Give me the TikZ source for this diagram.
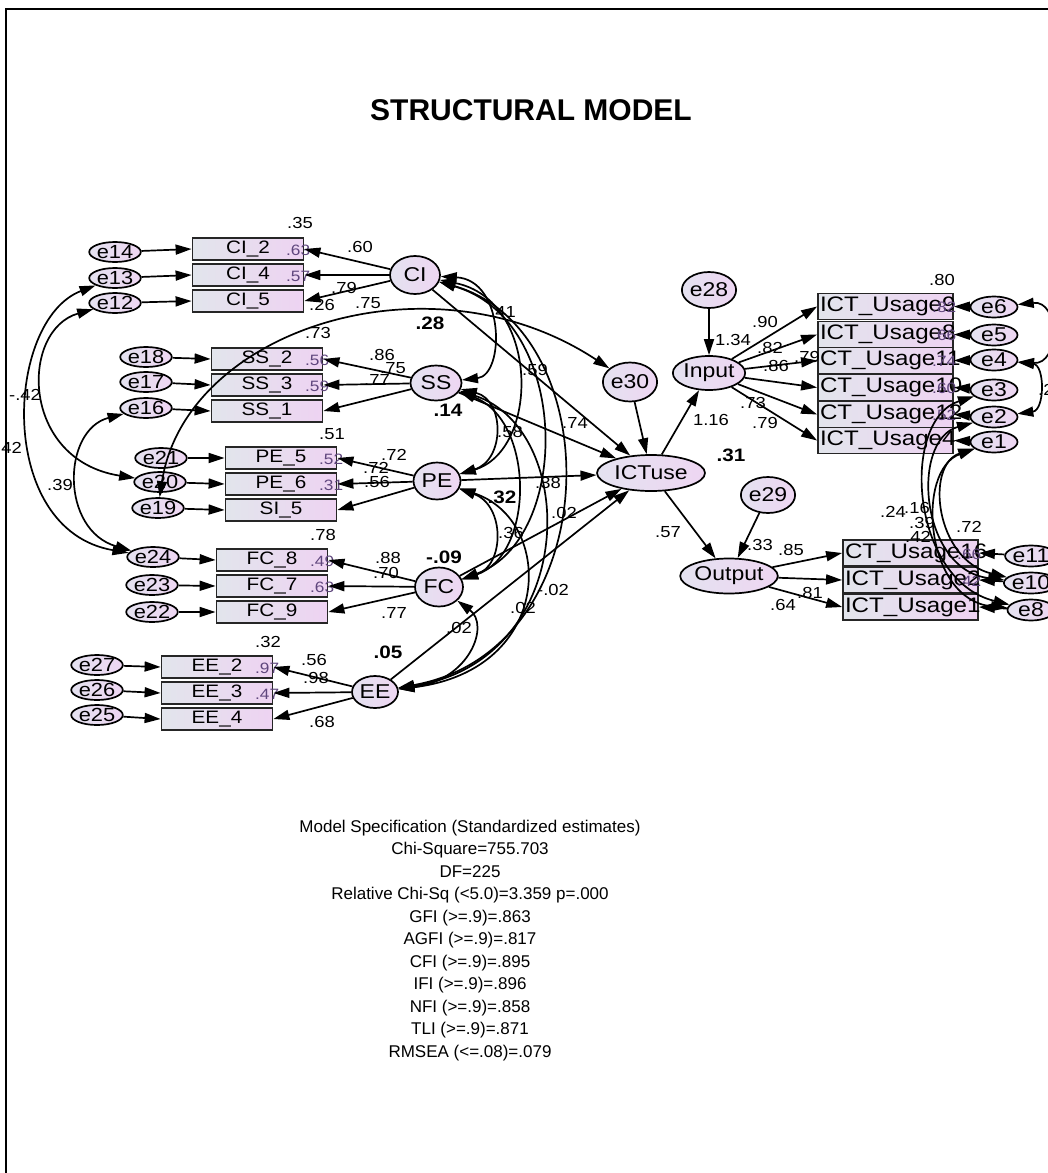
\documentclass[tikz,border=0pt]{standalone}
\usepackage{fontspec}
\setmainfont{Liberation Sans}[FakeStretch=1.15]
\newfontfamily\plainsans{Liberation Sans}
\usetikzlibrary{arrows.meta,shapes.geometric}
\definecolor{boxL}{RGB}{226,229,236}
\definecolor{boxR}{RGB}{238,211,242}
\definecolor{latL}{RGB}{228,226,240}
\definecolor{latR}{RGB}{238,214,242}
\definecolor{rsq}{RGB}{95,70,125}
\newcommand{\fsz}[1]{\fontsize{#1}{#1}\selectfont}
\tikzset{
  lbox/.style={rectangle, draw=black!85, line width=1.8pt, minimum width=111pt, minimum height=22pt, inner sep=0pt, left color=boxL, right color=boxR, font=\fsz{18}},
  rbox/.style={rectangle, draw=black!85, line width=1.8pt, minimum width=135pt, minimum height=26pt, inner sep=0pt, left color=boxL, right color=boxR, font=\fsz{21}, text width=131pt, align=left},
  err/.style={ellipse, draw, line width=1.7pt, minimum width=44pt, minimum height=20pt, inner sep=0pt, left color=latL, right color=latR, font=\fsz{19}},
  rerr/.style={err, minimum width=47pt, minimum height=21pt, font=\fsz{20}},
  lat/.style={ellipse, draw, line width=1.7pt, inner sep=0pt, left color=latL, right color=latR, font=\fsz{20}},
  reg/.style={->, line width=1.7pt},
  cov/.style={<->, line width=1.7pt},
  num/.style={font=\fsz{16}, inner sep=0pt},
  bnum/.style={font=\bfseries\fsz{18}, inner sep=0pt},
  rq/.style={font=\fsz{15}, text=rsq, inner sep=0pt, anchor=west},
}
\begin{document}
\begin{tikzpicture}[x=1pt,y=-1pt,>={Triangle[length=16pt,width=10pt]}]
\useasboundingbox (0,0) rectangle (1048,1173);
\begin{scope}
\clip (0,0) rectangle (1048,1173);
\fill[white] (0,0) rectangle (1048,1173);
\draw[line width=2pt] (6,1200) -- (6,9) -- (1100,9);
\node[font={\plainsans\bfseries\fsz{30}}] (title) at (531,110) {STRUCTURAL MODEL};

% ---------- left indicator boxes ----------
\node[lbox] (CI2) at (248,249) {CI\_2};
\node[lbox] (CI4) at (248,275) {CI\_4};
\node[lbox] (CI5) at (248,301) {CI\_5};
\node[lbox] (SS2) at (267,359) {SS\_2};
\node[lbox] (SS3) at (267,385) {SS\_3};
\node[lbox] (SS1) at (267,411) {SS\_1};
\node[lbox] (PE5) at (281,458) {PE\_5};
\node[lbox] (PE6) at (281,484) {PE\_6};
\node[lbox] (SI5) at (281,510) {SI\_5};
\node[lbox] (FC8) at (272,560) {FC\_8};
\node[lbox] (FC7) at (272,586) {FC\_7};
\node[lbox] (FC9) at (272,612) {FC\_9};
\node[lbox] (EE2) at (217,667) {EE\_2};
\node[lbox] (EE3) at (217,693) {EE\_3};
\node[lbox] (EE4) at (217,719) {EE\_4};

% inner r-square labels
\node[rq] (rCI2) at (286,250) {.63};
\node[rq] (rCI4) at (286,276) {.57};
\node[rq] (rSS2) at (305,360) {.56};
\node[rq] (rSS3) at (305,386) {.59};
\node[rq] (rPE5) at (319,459) {.52};
\node[rq] (rPE6) at (319,485) {.31};
\node[rq] (rFC8) at (310,561) {.49};
\node[rq] (rFC7) at (310,587) {.63};
\node[rq] (rEE2) at (255,668) {.97};
\node[rq] (rEE3) at (255,694) {.47};

% ---------- left error terms ----------
\node[err] (e14) at (115,252) {e14};
\node[err] (e13) at (115,278) {e13};
\node[err] (e12) at (115,303) {e12};
\node[err] (e18) at (146,357) {e18};
\node[err] (e17) at (146,382) {e17};
\node[err] (e16) at (146,408) {e16};
\node[err] (e21) at (161,458) {e21};
\node[err] (e20) at (160,482) {e20};
\node[err] (e19) at (158,508) {e19};
\node[err] (e24) at (153,557) {e24};
\node[err] (e23) at (152,585) {e23};
\node[err] (e22) at (152,612) {e22};
\node[err] (e27) at (97,665) {e27};
\node[err] (e26) at (97,690) {e26};
\node[err] (e25) at (97,715) {e25};

% ---------- latent variables ----------
\node[lat, minimum width=50pt, minimum height=38pt] (CI) at (415,275) {CI};
\node[lat, minimum width=51pt, minimum height=35pt] (SS) at (436,383) {SS};
\node[lat, minimum width=47pt, minimum height=37pt] (PE) at (437,481) {PE};
\node[lat, minimum width=48pt, minimum height=39pt] (FC) at (439,587) {FC};
\node[lat, minimum width=46pt, minimum height=32pt] (EE) at (375,692) {EE};
\node[lat, minimum width=46pt, minimum height=39pt] (e30) at (630,382) {e30};
\node[lat, minimum width=48pt, minimum height=36pt] (e28) at (709,290) {e28};
\node[lat, minimum width=62pt, minimum height=34pt] (Input) at (709,373) {Input};
\node[lat, minimum width=108pt, minimum height=36pt] (ICTuse) at (651,473) {ICTuse};
\node[lat, minimum width=75pt, minimum height=35pt] (Output) at (729,576) {Output};
\node[lat, minimum width=49pt, minimum height=36pt] (e29) at (768,495) {e29};

% ---------- right boxes ----------
\node[rbox] (U9) at (885.5,306.5) {ICT\_Usage9};
\node[rbox] (U8) at (885.5,334.5) {ICT\_Usage8};
\node[rbox] (U11) at (885.5,360.5) {CT\_Usage11};
\node[rbox] (U10) at (885.5,387.5) {CT\_Usage10};
\node[rbox] (U12) at (885.5,414.5) {CT\_Usage12};
\node[rbox] (U4) at (885.5,440.5) {ICT\_Usage4};
\node[rbox] (U16) at (910.5,553) {CT\_Usage16};
\node[rbox] (U2) at (910.5,580) {ICT\_Usage2};
\node[rbox] (U1) at (910.5,607) {ICT\_Usage1};

\node[rq] (rU9) at (932,307) {.82};
\node[rq] (rU8) at (932,335) {.66};
\node[rq] (rU11) at (932,361) {.74};
\node[rq] (rU10) at (932,388) {.60};
\node[rq] (rU12) at (932,415) {.52};
\node[rq] (rU16) at (957,554) {.66};
\node[rq] (rU2) at (957,581) {.42};

% ---------- right error terms ----------
\node[rerr] (e6) at (994,307) {e6};
\node[rerr] (e5) at (994,335) {e5};
\node[rerr] (e4) at (994,360) {e4};
\node[rerr] (e3) at (994,390) {e3};
\node[rerr] (e2) at (994,417) {e2};
\node[rerr] (e1) at (994,442) {e1};
\node[rerr] (e11) at (1031,556) {e11};
\node[rerr] (e10) at (1031,583) {e10};
\node[rerr] (e8) at (1031,610) {e8};

% ---------- measurement paths (left) ----------
\foreach \e/\b in {e14/CI2,e13/CI4,e12/CI5,e18/SS2,e17/SS3,e16/SS1,e21/PE5,e20/PE6,e19/SI5,e24/FC8,e23/FC7,e22/FC9,e27/EE2,e26/EE3,e25/EE4}
  \draw[reg] (\e) -- (\b.west);
\foreach \l/\b in {CI/CI2,CI/CI4,CI/CI5,SS/SS2,SS/SS3,SS/SS1,PE/PE5,PE/PE6,PE/SI5,FC/FC8,FC/FC7,FC/FC9,EE/EE2,EE/EE3,EE/EE4}
  \draw[reg] (\l) -- (\b.east);

% ---------- measurement paths (right) ----------
\foreach \b in {U9,U8,U11,U10,U12,U4}
  \draw[reg] (Input) -- (\b.west);
\foreach \b in {U16,U2,U1}
  \draw[reg] (Output) -- (\b.west);
\foreach \e/\b in {e6/U9,e5/U8,e4/U11,e3/U10,e2/U12,e1/U4,e11/U16,e10/U2,e8/U1}
  \draw[reg] (\e) -- (\b.east);

% ---------- structural paths ----------
\foreach \l in {CI,SS,PE,FC,EE,e30}
  \draw[reg] (\l) -- (ICTuse);
\draw[reg] (ICTuse) -- (Input);
\draw[reg] (ICTuse) -- (Output);
\draw[reg] (e28) -- (Input);
\draw[reg] (e29) -- (Output);

% ---------- covariances among latents ----------
\draw[cov] (CI) .. controls (505,280) and (505,375) .. (SS);
\draw[cov] (CI) .. controls (540,300) and (540,450) .. (PE);
\draw[cov] (CI) .. controls (572,320) and (572,540) .. (FC);
\draw[cov] (CI) .. controls (610,330) and (610,650) .. (EE);
\draw[cov] (SS) .. controls (505,400) and (505,460) .. (PE);
\draw[cov] (SS) .. controls (535,420) and (535,555) .. (FC);
\draw[cov] (SS) .. controls (580,430) and (580,660) .. (EE);
\draw[cov] (PE) .. controls (505,505) and (505,565) .. (FC);
\draw[cov] (PE) .. controls (555,520) and (555,670) .. (EE);
\draw[cov] (FC) .. controls (490,625) and (470,680) .. (EE);

% ---------- error covariances ----------
\draw[cov] (e13) .. controls (5,320) and (-5,530) .. (e24);
\draw[cov] (e12) .. controls (20,330) and (20,460) .. (e20);
\draw[cov] (e16) .. controls (62,430) and (60,530) .. (e24);
\draw[cov] (e19) .. controls (185,330) and (430,250) .. (e30);
\draw[cov] (e6) .. controls (1060,300) and (1060,365) .. (e4);
\draw[cov] (e4) .. controls (1045,365) and (1045,410) .. (e2);
\draw[cov] (e3) .. controls (900,420) and (910,580) .. (e8);
\draw[cov] (e2) .. controls (910,440) and (920,570) .. (e10);
\draw[cov] (e1) .. controls (925,465) and (935,560) .. (e10);
\draw[cov] (e1) .. controls (915,470) and (925,600) .. (e8);

% ---------- numeric labels ----------
\node[num] (n1) at (300,223) {.35};
\node[num] (n2) at (360,247) {.60};
\node[num] (n3) at (344,288) {.79};
\node[num] (n4) at (322,305) {.26};
\node[num] (n5) at (368,303) {.75};
\node[bnum] (n6) at (430,323) {.28};
\node[num] (n7) at (318,333) {.73};
\node[num] (n8) at (382,355) {.86};
\node[num] (n9) at (393,368) {.75};
\node[num] (n10) at (377,380) {.77};
\node[bnum] (n11) at (448,410) {.14};
\node[num] (n12) at (332,434) {.51};
\node[num] (n13) at (394,455) {.72};
\node[num] (n14) at (376,468) {.72};
\node[num] (n15) at (377,482) {.56};
\node[num] (n16) at (323,535) {.78};
\node[num] (n17) at (388,558) {.88};
\node[num] (n18) at (386,573) {.70};
\node[bnum] (n19) at (444,557) {-.09};
\node[num] (n20) at (394,613) {.77};
\node[num] (n21) at (459,628) {.02};
\node[num] (n22) at (268,642) {.32};
\node[bnum] (n23) at (388,652) {.05};
\node[num] (n24) at (314,660) {.56};
\node[num] (n25) at (316,678) {.98};
\node[num] (n26) at (322,722) {.68};
\node[num] (n27) at (25,395) {-.42};
\node[num, anchor=east] (n28) at (22,448) {.42};
\node[num] (n29) at (60,485) {.39};
\node[num] (n30) at (503,312) {.41};
\node[num] (n31) at (535,370) {.59};
\node[num] (n32) at (575,423) {.74};
\node[num] (n33) at (510,432) {.58};
\node[num] (n34) at (548,483) {.38};
\node[bnum] (n35) at (502,497) {.32};
\node[num] (n36) at (564,513) {.02};
\node[num] (n37) at (511,533) {.36};
\node[num] (n38) at (553,590) {-.02};
\node[num] (n39) at (523,608) {.02};
\node[bnum] (n40) at (731,455) {.31};
\node[num] (n41) at (711,420) {1.16};
\node[num] (n42) at (668,532) {.57};
\node[num] (n43) at (733,340) {1.34};
\node[num] (n44) at (765,322) {.90};
\node[num] (n45) at (770,348) {.82};
\node[num] (n46) at (776,366) {.86};
\node[num] (n47) at (807,357) {.79};
\node[num] (n48) at (753,403) {.73};
\node[num] (n49) at (765,423) {.79};
\node[num] (n50) at (942,280) {.80};
\node[num] (n51) at (760,545) {.33};
\node[num] (n52) at (791,550) {.85};
\node[num] (n53) at (810,593) {.81};
\node[num] (n54) at (783,605) {.64};
\node[num] (n55) at (893,512) {.24};
\node[num] (n56) at (917,508) {.16};
\node[num] (n57) at (922,523) {.39};
\node[num] (n58) at (918,537) {.42};
\node[num] (n59) at (969,527) {.72};
\node[num, anchor=west] (n60) at (1038,390) {.2};

% ---------- fit statistics ----------
\node[align=center, inner sep=0pt, font={\plainsans\fontsize{17}{22.5}\selectfont}] (spec) at (470,940.5) {Model Specification (Standardized estimates)\\Chi-Square=755.703\\DF=225\\Relative Chi-Sq (<5.0)=3.359 p=.000\\GFI (>=.9)=.863\\AGFI (>=.9)=.817\\CFI (>=.9)=.895\\IFI (>=.9)=.896\\NFI (>=.9)=.858\\TLI (>=.9)=.871\\RMSEA (<=.08)=.079};
\end{scope}
\end{tikzpicture}
\end{document}
